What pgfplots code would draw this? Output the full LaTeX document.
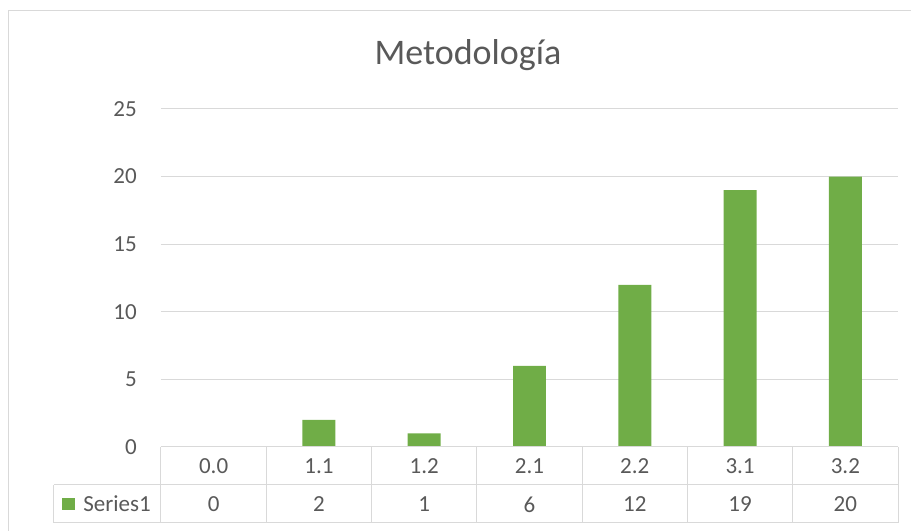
\documentclass[border=0pt]{standalone}
\usepackage{fontspec}
\setmainfont{Carlito}
\usepackage{pgfplots}
\usepackage{pgfplotstable}
\pgfplotsset{compat=1.18}

\definecolor{barGreen}{RGB}{112,173,71}
\definecolor{textGray}{RGB}{89,89,89}
\definecolor{lineGray}{RGB}{217,217,217}

\pgfplotstableread{
idx val
0 0
1 2
2 1
3 6
4 12
5 19
6 20
}\metodologia

\newcommand{\tickfont}{\fontsize{17.25}{20}\selectfont}

\begin{document}
\begin{tikzpicture}
% page frame (the axis origin sits at the lower-left corner of the plot area)
\useasboundingbox (-120.75pt,-63pt) rectangle (562.5pt,335.25pt);
\clip (-120.75pt,-63pt) rectangle (562.5pt,335.25pt);

\begin{axis}[
  at={(0,0)}, anchor=south west,
  width=552.75pt, height=253.5pt, scale only axis,
  xmin=-0.5, xmax=6.5, ymin=0, ymax=25,
  axis line style={draw=none},
  tick style={draw=none},
  ytick={0,5,10,15,20,25},
  ymajorgrids,
  grid style={lineGray, line width=0.75pt},
  xtick={0,...,6},
  xticklabels={0.0,1.1,1.2,2.1,2.2,3.1,3.2},
  ticklabel style={font=\tickfont, text=textGray},
  yticklabel style={anchor=east, inner sep=0pt, xshift=-18pt},
  xticklabel style={anchor=center, inner sep=0pt, yshift=-14.25pt},
  /pgf/number format/assume math mode=true,
  clip=false,
]
\addplot[ybar, bar width=0.3134, fill=barGreen, draw=none]
  table[x=idx, y=val] {\metodologia};
% value row of the data table
\addplot[draw=none, mark=none, nodes near coords, point meta=explicit,
  nodes near coords style={anchor=center, inner sep=0pt, font=\tickfont, text=textGray}]
  table[x=idx, y expr=-4.25, meta=val] {\metodologia};
\end{axis}

% chart frame, title and data table drawn on a pixel grid
\begin{scope}[x=0.75pt, y=-0.75pt, shift={(-161,-447)}]
  \draw[lineGray, line width=1pt] (8.5,10.5) rectangle (940,560);
  \node[anchor=base, inner sep=0pt, font=\fontsize{27}{32}\selectfont, text=textGray]
    at (468,65) {Metodología};
  \begin{scope}[lineGray, line width=0.75pt]
    \draw (161,447) -- (898,447);
    \draw (54,485) -- (898,485);
    \draw (54,523) -- (898,523);
    \draw (54,485) -- (54,523);
    \foreach \k in {0,...,7} {
      \draw ({161+\k*105.286},447) -- ({161+\k*105.286},523);
    }
  \end{scope}
  \fill[barGreen] (62,498) rectangle (75,510);
  \node[anchor=west, inner sep=0pt, font=\tickfont, text=textGray] at (83,504) {Series1};
\end{scope}
\end{tikzpicture}
\end{document}
